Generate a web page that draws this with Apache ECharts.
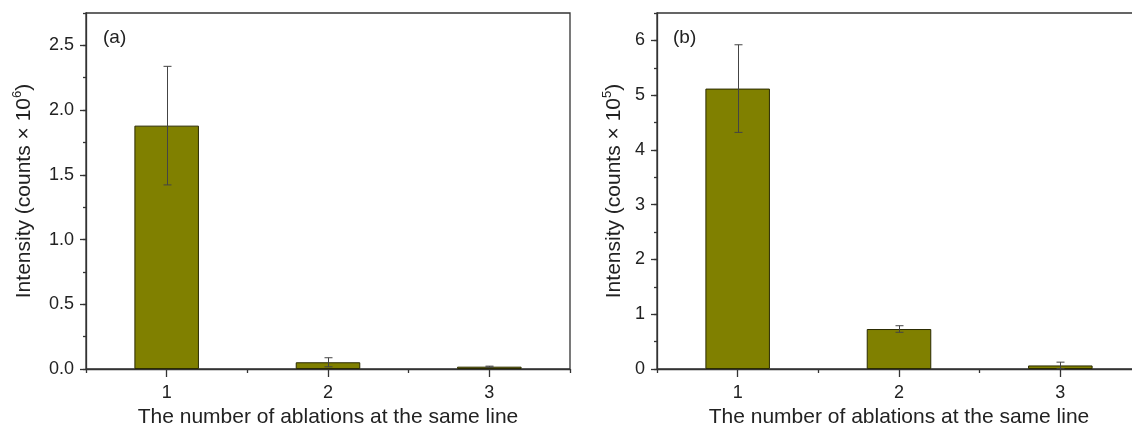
<!DOCTYPE html>
<html>
<head>
<meta charset="utf-8">
<script src="https://cdn.jsdelivr.net/npm/echarts@6/dist/echarts.min.js"></script>
<style>
html,body{margin:0;padding:0;background:#fff;}
#c{width:1132px;height:426px;}
</style>
</head>
<body>
<div id="c"></div>
<script>
// ---- data ----
var categories = ['1', '2', '3'];
var valuesA = [1.88, 0.052, 0.018];
var errorsA = [0.458, 0.035, 0.004];
var valuesB = [5.12, 0.73, 0.065];
var errorsB = [0.80, 0.06, 0.06];
var ticksA = [0, 0.5, 1.0, 1.5, 2.0, 2.5];
var ticksB = [0, 1, 2, 3, 4, 5, 6];
var panelLabels = ['(a)', '(b)'];
var xTitle = 'The number of ablations at the same line';

var FONT = '"Liberation Sans", Arial, sans-serif';
var AX = '#333';
var TXT = '#222';

function errData(vals, errs) {
  return vals.map(function (v, i) { return [i, v - errs[i], v + errs[i]]; });
}
function renderErr(params, api) {
  var lo = api.coord([api.value(0), api.value(1)]);
  var hi = api.coord([api.value(0), api.value(2)]);
  var x = Math.round(lo[0]) + 0.5;
  var w = 4;
  var st = { stroke: '#444', lineWidth: 1 };
  return {
    type: 'group',
    children: [
      { type: 'line', shape: { x1: x, y1: hi[1], x2: x, y2: lo[1] }, style: st },
      { type: 'line', shape: { x1: x - w, y1: hi[1], x2: x + w, y2: hi[1] }, style: st },
      { type: 'line', shape: { x1: x - w, y1: lo[1], x2: x + w, y2: lo[1] }, style: st }
    ]
  };
}

function xAxes(gi) {
  return [
    {
      type: 'category', gridIndex: gi, data: categories, boundaryGap: true, position: 'bottom',
      axisLine: { show: true, lineStyle: { color: AX, width: 1.3 } },
      axisTick: { show: true, alignWithLabel: true, length: 8, lineStyle: { color: AX, width: 1.3 } },
      axisLabel: { fontSize: 18, color: TXT, fontFamily: FONT, margin: 15 },
      name: xTitle, nameLocation: 'middle', nameGap: 38,
      nameTextStyle: { fontSize: 21, color: TXT, fontFamily: FONT }
    },
    {
      type: 'category', gridIndex: gi, data: categories, boundaryGap: true, position: 'bottom',
      axisLine: { show: false },
      axisTick: { show: true, alignWithLabel: false, length: 4, lineStyle: { color: AX, width: 1.3 } },
      axisLabel: { show: false }
    }
  ];
}
function yAxes(gi, max, ticks, minorInt, nameHtml, gap) {
  return [
    {
      type: 'value', gridIndex: gi, min: 0, max: max, interval: ticks[1] - ticks[0], position: 'left',
      splitLine: { show: false },
      axisLine: { show: true, lineStyle: { color: AX, width: 1.3 } },
      axisTick: { show: true, length: 6, customValues: ticks, lineStyle: { color: AX, width: 1.3 } },
      axisLabel: {
        fontSize: 18, color: TXT, fontFamily: FONT, margin: 12, customValues: ticks,
        formatter: function (v) { return max < 3 ? v.toFixed(1) : String(v); }
      },
      name: nameHtml, nameLocation: 'middle', nameGap: gap, nameRotate: 90,
      nameTextStyle: {
        color: TXT, fontFamily: FONT,
        rich: {
          a: { fontSize: 21, color: TXT, fontFamily: FONT, lineHeight: 26 },
          s: { fontSize: 13, color: TXT, fontFamily: FONT, verticalAlign: 'top', lineHeight: 26 }
        }
      }
    },
    {
      type: 'value', gridIndex: gi, min: 0, max: max, interval: minorInt, position: 'left', offset: 0,
      splitLine: { show: false },
      axisLine: { show: false },
      axisTick: { show: true, length: 3, lineStyle: { color: AX, width: 1.3 } },
      axisLabel: { show: false }
    }
  ];
}

var grids = [
  { left: 86, top: 13, width: 484, height: 356, show: true, borderColor: AX, borderWidth: 1.3, backgroundColor: 'transparent', outerBoundsMode: 'none', containLabel: false },
  { left: 657, top: 13, width: 484, height: 356, show: true, borderColor: AX, borderWidth: 1.3, backgroundColor: 'transparent', outerBoundsMode: 'none', containLabel: false }
];

var barStyle = { color: '#808000', borderColor: '#2a2a00', borderWidth: 1 };

var option = {
  backgroundColor: '#fff',
  animation: false,
  textStyle: { fontFamily: FONT },
  grid: grids,
  xAxis: xAxes(0).concat(xAxes(1)),
  yAxis: yAxes(0, 2.75, ticksA, 0.25, '{a|Intensity (counts × 10}{s|6}{a|)}', 49)
    .concat(yAxes(1, 6.5, ticksB, 0.5, '{a|Intensity (counts × 10}{s|5}{a|)}', 30)),
  graphic: [
    { type: 'text', left: 103, top: 28, style: { text: panelLabels[0], font: '19px ' + FONT, fill: TXT } },
    { type: 'text', left: 673, top: 28, style: { text: panelLabels[1], font: '19px ' + FONT, fill: TXT } }
  ],
  series: [
    { type: 'bar', xAxisIndex: 0, yAxisIndex: 0, data: valuesA, barWidth: '40%', itemStyle: barStyle },
    { type: 'custom', xAxisIndex: 0, yAxisIndex: 0, data: errData(valuesA, errorsA), renderItem: renderErr, z: 10 },
    { type: 'bar', xAxisIndex: 2, yAxisIndex: 2, data: valuesB, barWidth: '40%', itemStyle: barStyle },
    { type: 'custom', xAxisIndex: 2, yAxisIndex: 2, data: errData(valuesB, errorsB), renderItem: renderErr, z: 10 }
  ]
};

var chart = echarts.init(document.getElementById('c'), null, { renderer: 'canvas' });
chart.setOption(option);
</script>
</body>
</html>
